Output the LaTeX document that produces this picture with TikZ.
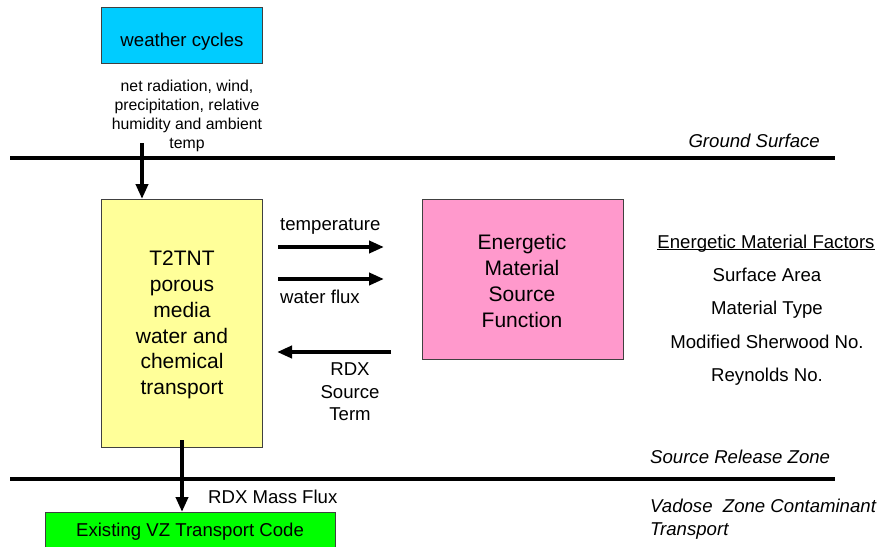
\documentclass[tikz,border=0pt]{standalone}
\usepackage{fontspec}
\setmainfont{Liberation Sans}
\usetikzlibrary{arrows.meta}
\definecolor{skyblue}{HTML}{00CCFF}
\definecolor{paleyellow}{HTML}{FFFF99}
\definecolor{rosepink}{HTML}{FF99CC}
\definecolor{brightgreen}{HTML}{00FF00}
\tikzset{
  box/.style={draw=black!75, line width=1pt, inner sep=0pt, anchor=north west},
  txt/.style={inner sep=0pt, align=center, font=\fontsize{18.6}{22.5}\selectfont},
  big/.style={inner sep=0pt, align=center, font=\fontsize{21}{25.8}\selectfont},
  small/.style={inner sep=0pt, align=center, font=\fontsize{15.8}{19.2}\selectfont},
  zone/.style={inner sep=0pt, align=left, font=\fontsize{18.6}{22.5}\selectfont\itshape},
  level/.style={line width=4pt},
  flow/.style={line width=4pt, -{Triangle[length=15pt,width=12pt]}}
}
\begin{document}
\begin{tikzpicture}[x=1pt,y=-1pt]
\useasboundingbox (0,0) rectangle (882,546);

% boxes
\node[box, fill=skyblue, minimum width=161pt, minimum height=56pt] (weather) at (101,7) {};
\node[txt, anchor=base] (weatherlabel) at (182,46) {weather cycles};
\node[box, fill=paleyellow, minimum width=161pt, minimum height=248pt] (t2tnt) at (101,199) {};
\node[big] (t2tntlabel) at (182,325) {T2TNT\\porous\\media\\water and\\chemical\\transport};
\node[box, fill=rosepink, minimum width=201pt, minimum height=160pt] (emsf) at (422,199) {};
\node[big] (emsflabel) at (522,281) {Energetic\\Material\\Source\\Function};
\node[box, fill=brightgreen, minimum width=290pt, minimum height=40pt] (vz) at (45,512) {};
\node[txt, anchor=base] (vzlabel) at (190,536) {Existing VZ Transport Code};

% ground levels
\coordinate (gsL) at (10,158);
\coordinate (gsR) at (835,158);
\draw[level] (gsL) -- (gsR);
\coordinate (srL) at (10,479);
\coordinate (srR) at (835,479);
\draw[level] (srL) -- (srR);
\node[zone, anchor=base east] (ground) at (820,147) {Ground Surface};
\node[zone, anchor=base west] (release) at (650,463) {Source Release Zone};
\node[zone, anchor=west] (vadose) at (650,519) {Vadose\ \ Zone Contaminant\\Transport};

% weather inputs
\node[small] (inputs) at (187,116) {net radiation, wind,\\precipitation, relative\\humidity and ambient\\temp};
\coordinate (inTop) at (142,143);
\draw[flow] (inTop) -- (t2tnt.north -| inTop);

% exchanges between the transport code and the source function
\coordinate (tA) at (278,247);
\coordinate (tB) at (384,247);
\coordinate (wA) at (278,279);
\coordinate (wB) at (384,279);
\coordinate (rA) at (391,352);
\coordinate (rB) at (277,352);
\draw[flow] (tA) -- (tB);
\draw[flow] (wA) -- (wB);
\draw[flow] (rA) -- (rB);
\node[txt, anchor=base west] (templabel) at (280,230) {temperature};
\node[txt, anchor=base west] (fluxlabel) at (280,303) {water flux};
\node[txt] (rdxlabel) at (350,392) {RDX\\Source\\Term};

% mass flux to the vadose zone code
\coordinate (mA) at (182,440);
\draw[flow] (mA) -- (vz.north -| mA);
\node[txt, anchor=base west] (masslabel) at (208,503) {RDX Mass Flux};

% material factors
\node[txt, anchor=base] (f0) at (766,248) {Energetic Material Factors};
\draw[line width=1pt] ([yshift=-1.5pt]f0.base west) -- ([yshift=-1.5pt]f0.base east);
\node[txt, anchor=base] (f1) at (767,281) {Surface Area};
\node[txt, anchor=base] (f2) at (767,314) {Material Type};
\node[txt, anchor=base] (f3) at (767,348) {Modified Sherwood No.};
\node[txt, anchor=base] (f4) at (767,381) {Reynolds No.};
\end{tikzpicture}
\end{document}
